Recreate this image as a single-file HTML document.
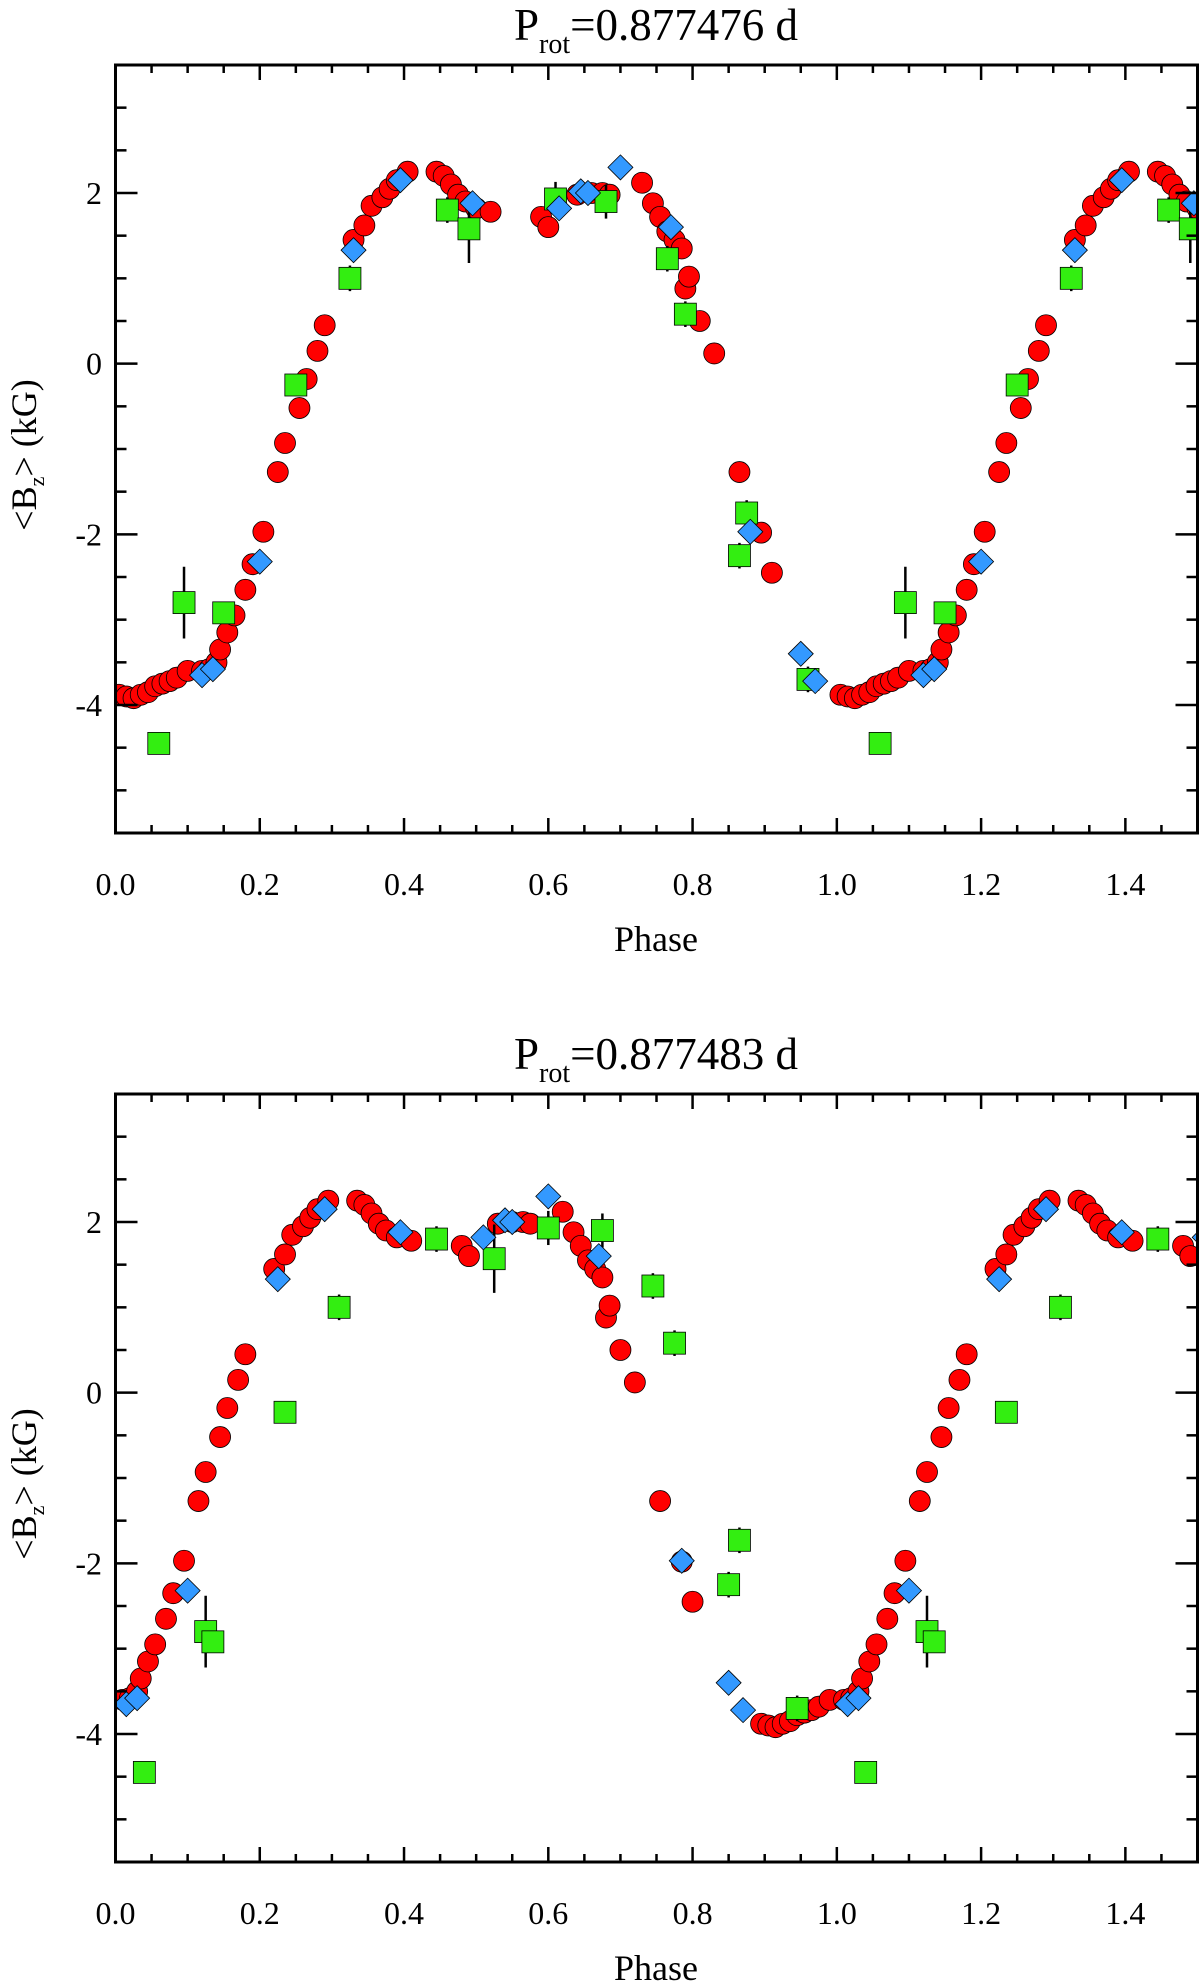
<!DOCTYPE html>
<html><head><meta charset="utf-8"><style>
html,body{margin:0;padding:0;background:#fff;}
svg{display:block;}
text{font-family:"Liberation Serif",serif;fill:#000;}
</style></head><body>
<svg id="fig" width="1200" height="1983" viewBox="0 0 1200 1983" xmlns="http://www.w3.org/2000/svg"></svg>
<script>
// ---- data: top panel (P=0.877476 d) ----
const topRedPhase=[0.005,0.015,0.025,0.035,0.045,0.055,0.065,0.075,0.085,0.1,0.12,0.13,0.14,0.145,0.155,0.165,0.18,0.19,0.205,0.225,0.235,0.255,0.265,0.28,0.29,0.33,0.345,0.355,0.37,0.38,0.39,0.405,0.445,0.455,0.465,0.475,0.485,0.5,0.52,0.59,0.6,0.64,0.66,0.675,0.685,0.73,0.745,0.755,0.765,0.775,0.785,0.79,0.795,0.81,0.83,0.865,0.895,0.91];
const topRedB=[-3.88,-3.9,-3.92,-3.88,-3.85,-3.78,-3.75,-3.72,-3.68,-3.6,-3.6,-3.58,-3.5,-3.35,-3.15,-2.95,-2.65,-2.35,-1.97,-1.27,-0.93,-0.52,-0.18,0.15,0.45,1.45,1.62,1.85,1.95,2.05,2.15,2.25,2.25,2.2,2.1,1.98,1.9,1.82,1.78,1.72,1.6,1.98,2.0,2.0,1.98,2.12,1.88,1.72,1.55,1.45,1.35,0.88,1.02,0.5,0.12,-1.27,-1.98,-2.45];
const topGreenPhase=[0.06,0.095,0.15,0.25,0.325,0.46,0.49,0.61,0.68,0.765,0.79,0.865,0.875,0.96];
const topGreenB=[-4.45,-2.8,-2.92,-0.25,1.0,1.8,1.58,1.93,1.9,1.23,0.58,-2.25,-1.75,-3.7];
const topGreenErr=[0.12,0.42,0.12,0.12,0.15,0.15,0.4,0.2,0.2,0.15,0.15,0.15,0.15,0.15];
const topBluePhase=[0.12,0.135,0.2,0.33,0.395,0.495,0.615,0.645,0.655,0.7,0.77,0.88,0.95,0.97];
const topBlueB=[-3.65,-3.58,-2.32,1.33,2.15,1.88,1.82,2.02,2.0,2.3,1.6,-1.97,-3.4,-3.72];
// ---- data: bottom panel (P=0.877483 d) ----
const botRedPhase=[0.895,0.905,0.915,0.925,0.935,0.945,0.955,0.965,0.975,0.99,0.01,0.02,0.03,0.035,0.045,0.055,0.07,0.08,0.095,0.115,0.125,0.145,0.155,0.17,0.18,0.22,0.235,0.245,0.26,0.27,0.28,0.295,0.335,0.345,0.355,0.365,0.375,0.39,0.41,0.48,0.49,0.53,0.55,0.565,0.575,0.62,0.635,0.645,0.655,0.665,0.675,0.68,0.685,0.70,0.72,0.755,0.785,0.80];
const botRedB=[-3.88,-3.9,-3.92,-3.88,-3.85,-3.78,-3.75,-3.72,-3.68,-3.6,-3.6,-3.58,-3.5,-3.35,-3.15,-2.95,-2.65,-2.35,-1.97,-1.27,-0.93,-0.52,-0.18,0.15,0.45,1.45,1.62,1.85,1.95,2.05,2.15,2.25,2.25,2.2,2.1,1.98,1.9,1.82,1.78,1.72,1.6,1.98,2.0,2.0,1.98,2.12,1.88,1.72,1.55,1.45,1.35,0.88,1.02,0.5,0.12,-1.27,-1.98,-2.45];
const botGreenPhase=[0.04,0.125,0.135,0.235,0.31,0.445,0.525,0.6,0.675,0.745,0.775,0.85,0.865,0.945];
const botGreenB=[-4.45,-2.8,-2.92,-0.23,1.0,1.8,1.57,1.93,1.9,1.25,0.58,-2.25,-1.73,-3.7];
const botGreenErr=[0.12,0.42,0.12,0.12,0.15,0.15,0.4,0.2,0.2,0.15,0.15,0.15,0.15,0.15];
const botBluePhase=[0.015,0.03,0.1,0.225,0.29,0.395,0.51,0.54,0.55,0.6,0.67,0.785,0.85,0.87];
const botBlueB=[-3.65,-3.58,-2.32,1.33,2.15,1.88,1.82,2.02,2.0,2.3,1.6,-1.97,-3.4,-3.72];
const xTickLabels=["0.0","0.2","0.4","0.6","0.8","1.0","1.2","1.4"];
const yTickLabels=["-4","-2","0","2"];
const titles=["0.877476 d","0.877483 d"];

const NS="http://www.w3.org/2000/svg";
const svg=document.getElementById('fig');
function mk(tag,attrs,parent){const e=document.createElementNS(NS,tag);for(const k in attrs)e.setAttribute(k,attrs[k]);(parent||svg).appendChild(e);return e;}

const X0=115.5,X1=1197.5,XMIN=0,XMAX=1.5,YMIN=-5.5,YMAX=3.5,PH=768;

function panel(idx,top,redP,redB,grP,grB,grE,blP,blB){
  const g=mk('g',{});
  
  
  const xs=p=>X0+(p-XMIN)/(XMAX-XMIN)*(X1-X0);
  const ys=b=>top+(YMAX-b)/(YMAX-YMIN)*PH;
  const bot=top+PH;
  const cid='clip'+idx;
  const cp=mk('clipPath',{id:cid},g);mk('rect',{x:X0,y:top,width:X1-X0,height:PH},cp);
  const data=mk('g',{'clip-path':'url(#'+cid+')'},g);
  
  
  const reps=p=>[p,p+1].filter(v=>v<=XMAX+0.03);
  // red circles
  redP.forEach((p,i)=>{reps(p).forEach(v=>{
    const c=mk('circle',{cx:xs(v),cy:ys(redB[i]),r:10.5,fill:'#ff0000',stroke:'#000','stroke-width':0.8},data);
    
    
  });});
  // green squares with error bars
  grP.forEach((p,i)=>{reps(p).forEach(v=>{
    const x=xs(v),y=ys(grB[i]);
    const l=mk('line',{x1:x,x2:x,y1:ys(grB[i]+grE[i]),y2:ys(grB[i]-grE[i]),stroke:'#000','stroke-width':2.5},data);
    
    
    const s=mk('rect',{x:x-11,y:y-11,width:22,height:22,fill:'#33ee11',stroke:'#000','stroke-width':0.8},data);
    
    
  });});
  // blue diamonds
  blP.forEach((p,i)=>{reps(p).forEach(v=>{
    const x=xs(v),y=ys(blB[i]),d=12.5;
    const pg=mk('polygon',{points:`${x},${y-d} ${x+d},${y} ${x},${y+d} ${x-d},${y}`,fill:'#3399ff',stroke:'#000','stroke-width':0.8},data);
    
    
  });});
  // frame
  const fr=mk('rect',{x:X0,y:top,width:X1-X0,height:PH,fill:'none',stroke:'#000','stroke-width':3},g);
  
  
  // x ticks
  for(let k=0;k<=30;k++){const v=k*0.05;const x=xs(v);const maj=(k%4===0);const L=maj?15:8;
    mk('line',{x1:x,x2:x,y1:bot,y2:bot-L,stroke:'#000','stroke-width':2.5},g);
    mk('line',{x1:x,x2:x,y1:top,y2:top+L,stroke:'#000','stroke-width':2.5},g);}
  xTickLabels.forEach((t,i)=>{const tx=mk('text',{x:xs(i*0.2),y:bot+62,'font-size':32,'text-anchor':'middle'},g);tx.textContent=t;
    
    });
  // y ticks
  for(let k=0;k<=18;k++){const v=YMIN+k*0.5;const y=ys(v);const maj=(Math.abs(v%2)<1e-9);const L=maj?22:11;
    mk('line',{x1:X0,x2:X0+L,y1:y,y2:y,stroke:'#000','stroke-width':2.5},g);
    mk('line',{x1:X1,x2:X1-L,y1:y,y2:y,stroke:'#000','stroke-width':2.5},g);}
  yTickLabels.forEach(t=>{const v=parseFloat(t);const tx=mk('text',{x:102,y:ys(v)+11,'font-size':32,'text-anchor':'end'},g);tx.textContent=t;
    
    });
  // x title
  const xt=mk('text',{x:656,y:bot+118,'font-size':36,'text-anchor':'middle'},g);xt.textContent='Phase';
  
  
  // y title
  const yt=mk('text',{x:0,y:0,'font-size':36,'text-anchor':'middle',transform:`translate(36,${top+PH/2+6}) rotate(-90)`},g);
  yt.innerHTML='&lt;B<tspan font-size="22" dy="8">z</tspan><tspan dy="-8">&gt; (kG)</tspan>';
  
  
  // title
  const tt=mk('text',{x:656,y:top-25,'font-size':45,'text-anchor':'middle'},g);
  tt.innerHTML='P<tspan font-size="28" dy="13">rot</tspan><tspan dy="-13">=' + titles[idx] + '</tspan>';
  
  
}
panel(0,65,topRedPhase,topRedB,topGreenPhase,topGreenB,topGreenErr,topBluePhase,topBlueB);
panel(1,1094,botRedPhase,botRedB,botGreenPhase,botGreenB,botGreenErr,botBluePhase,botBlueB);
</script>
</body></html>
